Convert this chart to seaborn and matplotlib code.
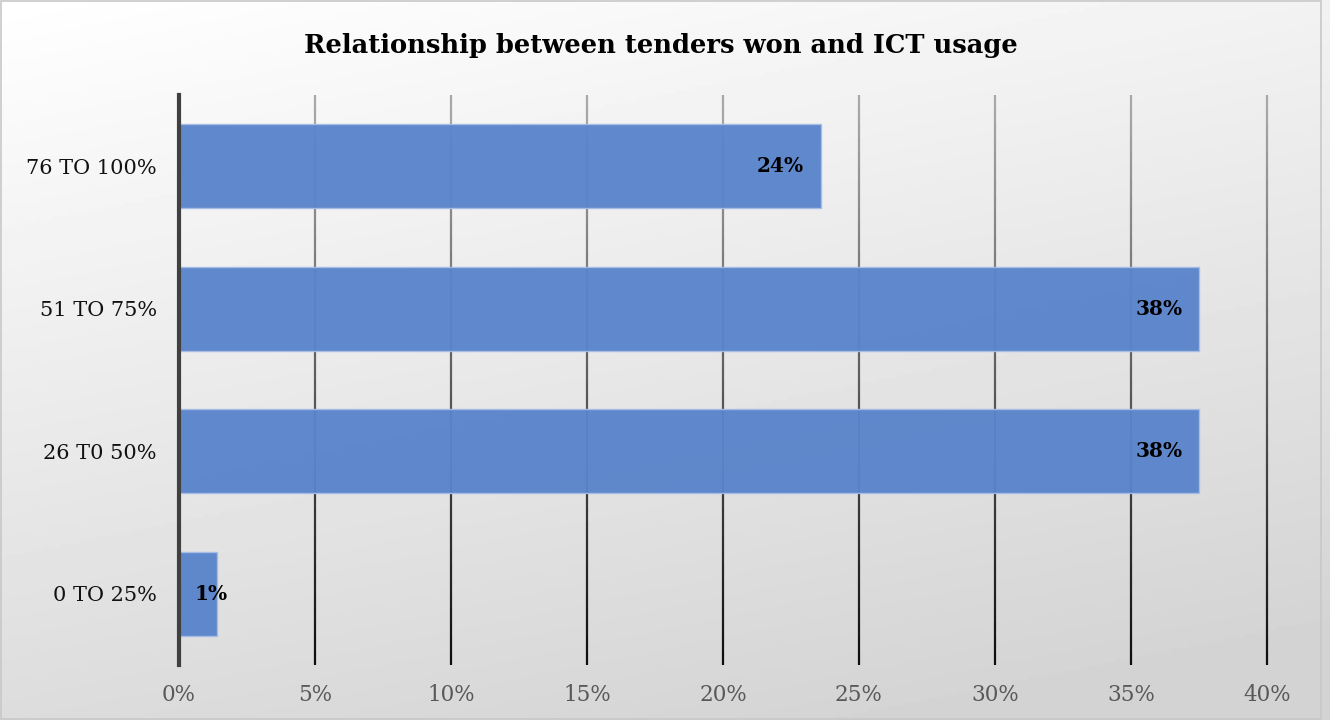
import numpy as np
import pandas as pd
import matplotlib
matplotlib.use("Agg")
import matplotlib.pyplot as plt
import seaborn as sns
from matplotlib.patches import Rectangle

# Data (share of respondents, %)
categories = ["76 TO 100%", "51 TO 75%", "26 T0 50%", "0 TO 25%"]
shares = [23.6, 37.5, 37.5, 1.4]
labels = ["24%", "38%", "38%", "1%"]
xticks = [0, 5, 10, 15, 20, 25, 30, 35, 40]

df = pd.DataFrame({"band": categories, "share": shares})

sns.set_style("white")
plt.rcParams["font.family"] = ["DejaVu Serif"]
plt.rcParams["text.color"] = "black"

fig = plt.figure(figsize=(13.3, 7.2), dpi=100)

# soft grey gradient behind everything
bg = fig.add_axes([0, 0, 1, 1], zorder=-10)
yy, xx = np.mgrid[0:1:200j, 0:1:400j]
shade = 1.0 - 0.17 * np.clip(0.8 * yy + 0.3 * xx, 0, 1)
bg.imshow(shade, cmap="gray", vmin=0, vmax=1, aspect="auto",
          extent=[0, 1, 0, 1], origin="upper")
bg.set_axis_off()
fig.patches.append(Rectangle((0.001, 0.002), 0.992, 0.996, transform=fig.transFigure,
                             fill=False, edgecolor="#c8c8c8", linewidth=1.2))

ax = fig.add_axes([0.1346, 0.0764, 0.818, 0.792])
ax.set_facecolor("none")

sns.barplot(data=df, x="share", y="band", orient="h", color="#5A84CB",
            saturation=1, width=0.59, edgecolor="#a7bde4", linewidth=1,
            alpha=0.96, ax=ax, zorder=3)

ax.set_xlim(0, 40)
ax.set_ylim(3.5, -0.5)
ax.set_xticks(xticks)
ax.set_xticklabels([f"{t}%" for t in xticks])

# vertical gridlines, light at the top and dark at the bottom
n = 40
edges = np.linspace(-0.5, 3.5, n + 1)
cols = [plt.cm.gray(0.66 - 0.6 * i / (n - 1)) for i in range(n)]
for t in xticks[1:]:
    ax.vlines([t] * n, edges[:-1], edges[1:], colors=cols, linewidth=1.6,
              zorder=1, clip_on=False)

for s in ["top", "right", "bottom"]:
    ax.spines[s].set_visible(False)
ax.spines["left"].set_color("#404040")
ax.spines["left"].set_linewidth(3)
ax.spines["left"].set_zorder(5)

ax.tick_params(axis="x", length=0, pad=14, labelsize=15.5, labelcolor="#595959")
ax.tick_params(axis="y", length=0, pad=16, labelsize=15, labelcolor="#111111")
ax.set_xlabel("")
ax.set_ylabel("")

for i, (v, lab) in enumerate(zip(shares, labels)):
    if v < 5:
        ax.annotate(lab, (0, i), xytext=(11, 0), textcoords="offset points",
                    ha="left", va="center", fontsize=14.5, fontweight="bold",
                    color="black", zorder=6)
    else:
        ax.annotate(lab, (v, i), xytext=(-12, 0), textcoords="offset points",
                    ha="right", va="center", fontsize=14.5, fontweight="bold",
                    color="black", zorder=6)

fig.text(0.497, 0.937, "Relationship between tenders won and ICT usage",
         ha="center", va="center", fontsize=18.5, fontweight="bold", color="black")

fig.savefig("out.png", dpi=100)
